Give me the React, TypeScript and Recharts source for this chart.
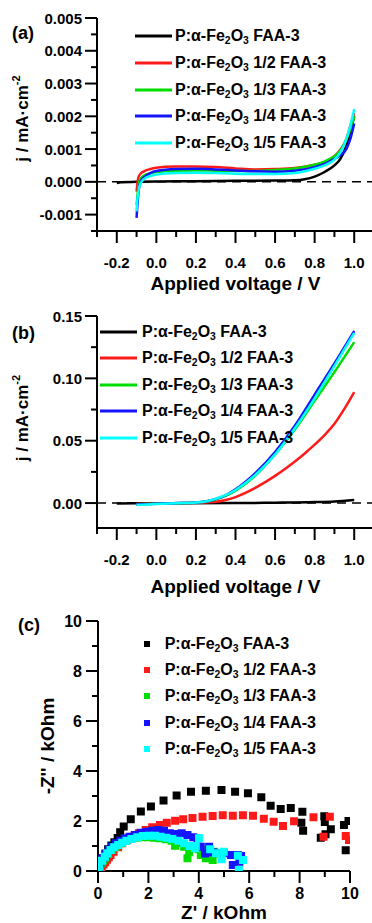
import React from 'react';
import {
  LineChart,
  Line,
  ScatterChart,
  Scatter,
  XAxis,
  YAxis,
  ZAxis,
  ReferenceLine,
  Legend,
  Label,
} from 'recharts';

const FONT = '"Liberation Sans", Arial, Helvetica, sans-serif';

const seriesNames = [
  'P:α-Fe2O3 FAA-3',
  'P:α-Fe2O3 1/2 FAA-3',
  'P:α-Fe2O3 1/3 FAA-3',
  'P:α-Fe2O3 1/4 FAA-3',
  'P:α-Fe2O3 1/5 FAA-3',
];
const seriesColors = ['#000000', '#ff1a1a', '#00dd00', '#1414ff', '#00ffff'];

// tick values
const voltMajor = [-0.2, 0, 0.2, 0.4, 0.6, 0.8, 1.0];
const voltMinor = [-0.3, -0.1, 0.1, 0.3, 0.5, 0.7, 0.9, 1.1];
const darkMajor = [-0.001, 0, 0.001, 0.002, 0.003, 0.004, 0.005];
const darkMinor = [-0.0015, -0.0005, 0.0005, 0.0015, 0.0025, 0.0035, 0.0045];
const lightMajor = [0, 0.05, 0.1, 0.15];
const lightMinor = [0.025, 0.075, 0.125];
const ohmMajor = [0, 2, 4, 6, 8, 10];
const ohmMinor = [1, 3, 5, 7, 9];

// (a) dark current, [V, mA/cm2]
const darkBlack = [
  [-0.2, -0.00004], [-0.18, -0.00001], [-0.1, 0.0], [0.0, 0.00001], [0.2, 0.00002],
  [0.4, 0.00003], [0.6, 0.00004], [0.7, 0.00005], [0.75, 0.00008], [0.8, 0.00016],
  [0.85, 0.0003], [0.9, 0.0005], [0.93, 0.0007], [0.96, 0.0011], [0.98, 0.0015], [1.0, 0.002],
];
const darkHalf = [
  [-0.1, -0.0003], [-0.095, 0.0], [-0.09, 0.00015], [-0.08, 0.00025], [-0.06, 0.00033],
  [-0.03, 0.00039], [0.0, 0.00043], [0.05, 0.00046], [0.1, 0.00047], [0.2, 0.00047],
  [0.3, 0.00045], [0.4, 0.00041], [0.5, 0.00038], [0.6, 0.00039], [0.7, 0.00042],
  [0.8, 0.00052], [0.85, 0.0006], [0.9, 0.00078], [0.93, 0.00098], [0.96, 0.0013],
  [0.98, 0.0017], [1.0, 0.0021],
];
const darkThird = [
  [-0.1, -0.0007], [-0.095, -0.0004], [-0.09, -0.0001], [-0.08, 0.0001], [-0.06, 0.0002],
  [-0.03, 0.00026], [0.0, 0.0003], [0.1, 0.00034], [0.2, 0.00035], [0.3, 0.00034],
  [0.4, 0.00033], [0.5, 0.00033], [0.6, 0.00036], [0.7, 0.00041], [0.8, 0.00052],
  [0.85, 0.00062], [0.9, 0.00078], [0.93, 0.00095], [0.96, 0.0013], [0.98, 0.0016], [1.0, 0.002],
];
const darkQuarter = [
  [-0.1, -0.0011], [-0.097, -0.0008], [-0.093, -0.0005], [-0.088, -0.0002], [-0.08, 0.0],
  [-0.06, 0.00015], [-0.03, 0.00027], [0.0, 0.00033], [0.1, 0.00039], [0.2, 0.0004],
  [0.3, 0.00038], [0.4, 0.00035], [0.5, 0.00032], [0.6, 0.00031], [0.7, 0.00034],
  [0.8, 0.00045], [0.85, 0.00055], [0.9, 0.0007], [0.93, 0.00082], [0.96, 0.001],
  [0.98, 0.0013], [1.0, 0.00178],
];
const darkFifth = [
  [-0.1, -0.0009], [-0.097, -0.0006], [-0.093, -0.0004], [-0.088, -0.0002], [-0.08, -0.00005],
  [-0.06, 0.0001], [-0.03, 0.00018], [0.0, 0.00022], [0.1, 0.00027], [0.2, 0.00028],
  [0.3, 0.00027], [0.4, 0.00025], [0.5, 0.00024], [0.6, 0.00024], [0.7, 0.00027],
  [0.8, 0.0004], [0.85, 0.0005], [0.9, 0.00068], [0.93, 0.0009], [0.96, 0.0013],
  [0.98, 0.0017], [1.0, 0.00222],
];

// (b) photocurrent, [V, mA/cm2]
const lightBlack = [
  [-0.2, -0.0003], [0.0, -0.0002], [0.4, 0.0], [0.6, 0.0003], [0.8, 0.0008], [0.9, 0.0013], [1.0, 0.0025],
];
const lightHalf = [
  [-0.1, -0.0008], [0.0, -0.0004], [0.1, -0.0001], [0.2, 0.0002], [0.25, 0.0005], [0.3, 0.001],
  [0.35, 0.0025], [0.4, 0.0048], [0.45, 0.0082], [0.5, 0.0122], [0.55, 0.0168], [0.6, 0.0218],
  [0.65, 0.0273], [0.7, 0.0333], [0.75, 0.0398], [0.8, 0.0468], [0.85, 0.0545], [0.9, 0.0635],
  [0.95, 0.0755], [1.0, 0.089],
];
const lightThird = [
  [-0.1, -0.001], [0.0, -0.0005], [0.1, -0.0001], [0.2, 0.0004], [0.25, 0.0012], [0.3, 0.003],
  [0.35, 0.0058], [0.4, 0.01], [0.5, 0.022], [0.6, 0.039], [0.7, 0.059], [0.8, 0.082],
  [0.9, 0.105], [1.0, 0.129],
];
const lightQuarter = [
  [-0.1, -0.0012], [0.0, -0.0005], [0.1, 0.0], [0.2, 0.0005], [0.25, 0.0013], [0.3, 0.0033],
  [0.35, 0.0062], [0.4, 0.011], [0.5, 0.024], [0.6, 0.041], [0.7, 0.062], [0.8, 0.087],
  [0.9, 0.112], [1.0, 0.138],
];
const lightFifth = [
  [-0.1, -0.0015], [0.0, -0.0008], [0.1, -0.0002], [0.2, 0.0004], [0.25, 0.0013], [0.3, 0.0035],
  [0.35, 0.0063], [0.4, 0.0105], [0.5, 0.0225], [0.6, 0.039], [0.7, 0.06], [0.8, 0.084],
  [0.9, 0.11], [1.0, 0.1365],
];

// (c) Nyquist, [Z', -Z''] in kOhm
const eisBlack = [
  [0.05, 0.12], [0.1, 0.3], [0.2, 0.5], [0.3, 0.7], [0.4, 0.87], [0.53, 1.02], [0.65, 1.15],
  [0.78, 1.32], [0.88, 1.55], [1.02, 1.78], [1.3, 2.07], [1.7, 2.38], [2.1, 2.58], [2.6, 2.82],
  [3.12, 3.02], [3.69, 3.17], [4.28, 3.21], [4.9, 3.24], [5.44, 3.17], [5.95, 3.11], [6.48, 2.95],
  [6.85, 2.61], [7.25, 2.48], [7.65, 2.52], [8.11, 2.37], [8.07, 1.93], [8.14, 1.61], [8.84, 1.33],
  [9.03, 1.47], [9.24, 1.67], [8.98, 2.19], [9.0, 1.96], [9.76, 1.84], [9.94, 2.0], [9.83, 0.83],
];
const eisHalf = [
  [0.05, 0.02], [0.09, 0.06], [0.15, 0.15], [0.22, 0.26], [0.29, 0.35], [0.36, 0.45], [0.43, 0.55],
  [0.5, 0.64], [0.62, 0.77], [0.8, 0.95], [0.96, 1.11], [1.16, 1.24], [1.38, 1.37], [1.62, 1.51],
  [1.89, 1.64], [2.15, 1.75], [2.46, 1.84], [2.73, 1.93], [3.06, 2.01], [3.38, 2.07], [3.75, 2.12],
  [4.15, 2.17], [4.55, 2.2], [4.95, 2.23], [5.35, 2.21], [5.75, 2.23], [6.15, 2.21], [6.58, 2.09],
  [6.97, 1.97], [7.34, 1.8], [7.78, 1.99], [8.55, 2.15], [9.2, 2.17], [8.95, 1.37], [9.83, 1.4],
  [9.96, 1.24],
];
const eisThird = [
  [0.05, 0.05], [0.08, 0.15], [0.13, 0.31], [0.2, 0.42], [0.27, 0.51], [0.4, 0.68], [0.56, 0.84],
  [0.72, 0.97], [0.89, 1.11], [1.09, 1.21], [1.29, 1.28], [1.52, 1.33], [1.76, 1.35], [2.0, 1.35],
  [2.22, 1.33], [2.45, 1.31], [2.69, 1.27], [2.92, 1.21], [3.06, 1.01], [3.22, 1.11], [3.42, 0.97],
  [3.55, 0.51], [3.68, 0.91], [3.62, 0.75], [4.01, 0.87], [4.08, 0.64], [4.28, 0.51], [4.48, 0.61],
  [4.55, 0.44], [4.35, 0.84], [4.61, 0.77],
];
const eisQuarter = [
  [0.03, 0.05], [0.09, 0.31], [0.18, 0.51], [0.29, 0.68], [0.42, 0.84], [0.56, 0.97], [0.72, 1.11],
  [0.89, 1.21], [1.06, 1.31], [1.25, 1.37], [1.46, 1.44], [1.69, 1.53], [1.92, 1.57], [2.15, 1.61],
  [2.39, 1.64], [2.62, 1.61], [2.85, 1.51], [3.08, 1.48], [3.32, 1.51], [3.55, 1.44], [3.78, 1.35],
  [3.95, 1.3], [4.08, 0.97], [4.41, 0.97], [4.25, 0.7], [4.55, 0.75], [4.81, 0.71], [4.99, 0.71],
  [5.28, 0.64], [5.35, 0.24], [5.55, 0.64], [5.61, 0.37], [5.68, 0.6],
];
const eisFifth = [
  [0.02, 0.03], [0.05, 0.2], [0.16, 0.41], [0.27, 0.57], [0.37, 0.71], [0.5, 0.84], [0.64, 0.95],
  [0.8, 1.04], [0.96, 1.13], [1.13, 1.21], [1.33, 1.28], [1.56, 1.35], [1.78, 1.4], [2.02, 1.41],
  [2.26, 1.41], [2.48, 1.37], [2.71, 1.33], [2.95, 1.28], [3.19, 1.21], [3.42, 1.11], [3.64, 1.0],
  [3.85, 0.91], [3.88, 1.0], [4.01, 1.31], [4.45, 0.87], [4.68, 0.71], [4.91, 0.47], [4.99, 0.77],
  [5.55, 0.61], [5.75, 0.44], [5.59, 0.04],
];

const toPoints = (pairs: number[][]) => pairs.map(([x, y]) => ({ x, y }));
const allTicks = (a: number[], b: number[]) => [...a, ...b].sort((p, q) => p - q);
const isIn = (list: number[], v: number) => list.some((m) => Math.abs(m - v) < 1e-9);

const darkSets = [darkBlack, darkHalf, darkThird, darkQuarter, darkFifth].map(toPoints);
const lightSets = [lightBlack, lightHalf, lightThird, lightQuarter, lightFifth].map(toPoints);
const eisSets = [eisBlack, eisHalf, eisThird, eisQuarter, eisFifth].map(toPoints);

const textStyle = { fontFamily: FONT, fontWeight: 700, fill: '#000' };

const bottomTick =
  (major: number[], digits: number, dy: number, size: number) => (props: any) => {
    const { x, y, payload } = props;
    const big = isIn(major, payload.value);
    return (
      <g>
        <line x1={x} y1={y} x2={x} y2={y + (big ? 12 : 6)} stroke="#000" strokeWidth={2} />
        {big && (
          <text x={x} y={y + dy} textAnchor="middle" dominantBaseline="central" fontSize={size} {...textStyle}>
            {payload.value.toFixed(digits)}
          </text>
        )}
      </g>
    );
  };

const leftTick =
  (major: number[], digits: number, dx: number, size: number) => (props: any) => {
    const { x, y, payload } = props;
    const big = isIn(major, payload.value);
    return (
      <g>
        <line x1={x - (big ? 12 : 6)} y1={y} x2={x} y2={y} stroke="#000" strokeWidth={2} />
        {big && (
          <text x={x - dx} y={y} textAnchor="end" dominantBaseline="central" fontSize={size} {...textStyle}>
            {payload.value.toFixed(digits)}
          </text>
        )}
      </g>
    );
  };

const xTitle = (text: string, dy: number) => (props: any) => {
  const { x, y, width } = props.viewBox;
  return (
    <text x={x + width / 2} y={y + dy} textAnchor="middle" dominantBaseline="central" fontSize={19} {...textStyle}>
      {text}
    </text>
  );
};

const yTitle = (main: string, sup: string, cx: number, shift: number, size: number) => (props: any) => {
  const { x, y, height } = props.viewBox;
  const px = x + cx;
  const py = y + height / 2 + shift;
  return (
    <text
      x={px}
      y={py}
      transform={`rotate(-90 ${px} ${py})`}
      textAnchor="middle"
      dominantBaseline="central"
      fontSize={size}
      {...textStyle}
    >
      {main}
      {sup && (
        <tspan dy="-0.55em" fontSize="0.65em">
          {sup}
        </tspan>
      )}
    </text>
  );
};

const subStyle = { fontSize: '0.65em', verticalAlign: '-0.3em', lineHeight: 0 };
const fancyName = (name: string) => {
  const [a, b] = name.split('Fe2O3');
  return (
    <>
      {a}Fe<sub style={subStyle}>2</sub>O<sub style={subStyle}>3</sub>
      {b}
    </>
  );
};

const LegendList = ({ payload, kind, markW, gap, rowH }: any) => {
  const items = [...(payload || [])].sort(
    (a: any, b: any) => seriesNames.indexOf(a.value) - seriesNames.indexOf(b.value),
  );
  return (
    <div style={{ fontFamily: FONT, fontWeight: 700, fontSize: 16, color: '#000' }}>
      {items.map((it: any) => (
        <div key={it.value} style={{ display: 'flex', alignItems: 'center', height: rowH, whiteSpace: 'nowrap' }}>
          <svg width={markW} height={8} style={{ display: 'block', flex: 'none' }}>
            {kind === 'line' ? (
              <line x1={0} y1={4} x2={markW} y2={4} stroke={it.color} strokeWidth={3} />
            ) : (
              <rect x={(markW - 6) / 2} y={1} width={6} height={6} fill={it.color} />
            )}
          </svg>
          <span style={{ marginLeft: gap, lineHeight: 1 }}>{fancyName(it.value)}</span>
        </div>
      ))}
    </div>
  );
};

const axisLine = { stroke: '#000', strokeWidth: 2 };
const panelTag = (top: number, left: number): React.CSSProperties => ({
  position: 'absolute',
  top,
  left,
  fontFamily: FONT,
  fontWeight: 700,
  fontSize: 18,
  lineHeight: '18px',
  color: '#000',
});

const legendFixed = { layout: 'vertical' as const, align: 'center' as const, verticalAlign: 'middle' as const };

export default function App() {
  return (
    <div style={{ position: 'absolute', left: 0, top: 0, width: 372, height: 923, overflow: 'hidden', background: '#fff' }}>
      {/* (a) */}
      <div style={{ position: 'absolute', left: 0, top: 0 }}>
        <LineChart width={379} height={300} margin={{ top: 18, right: 5, bottom: 0, left: 0 }}>
          <XAxis
            type="number"
            dataKey="x"
            domain={[-0.3, 1.1]}
            ticks={allTicks(voltMajor, voltMinor)}
            interval={0}
            allowDataOverflow
            height={69}
            tickSize={0}
            tickMargin={0}
            tickLine={false}
            axisLine={axisLine}
            tick={bottomTick(voltMajor, 1, 31, 15)}
          >
            <Label content={xTitle('Applied voltage / V', 52)} />
          </XAxis>
          <XAxis xAxisId="top" orientation="top" type="number" domain={[-0.3, 1.1]} height={0} tick={false} tickLine={false} axisLine={axisLine} />
          <YAxis
            type="number"
            domain={[-0.0015, 0.005]}
            ticks={allTicks(darkMajor, darkMinor)}
            interval={0}
            allowDataOverflow
            width={97}
            tickSize={0}
            tickMargin={0}
            tickLine={false}
            axisLine={axisLine}
            tick={leftTick(darkMajor, 3, 15, 15)}
          >
            <Label content={yTitle('j / mA·cm', '-2', 22, -6, 17)} />
          </YAxis>
          <ReferenceLine y={0} stroke="#000" strokeWidth={1.5} strokeDasharray="9 6" />
          {darkSets.map((d, i) => (
            <Line
              key={seriesNames[i]}
              data={d}
              dataKey="y"
              name={seriesNames[i]}
              type="monotone"
              stroke={seriesColors[i]}
              strokeWidth={2.5}
              dot={false}
              isAnimationActive={false}
            />
          ))}
          <Legend
            {...legendFixed}
            wrapperStyle={{ left: 135, top: 22.7, width: 'auto' }}
            content={(p: any) => <LegendList payload={p.payload} kind="line" markW={37} gap={3} rowH={26.8} />}
          />
        </LineChart>
      </div>
      <div style={panelTag(24, 12)}>(a)</div>

      {/* (b) */}
      <div style={{ position: 'absolute', left: 0, top: 300 }}>
        <LineChart width={379} height={300} margin={{ top: 16, right: 5, bottom: 0, left: 0 }}>
          <XAxis
            type="number"
            dataKey="x"
            domain={[-0.3, 1.1]}
            ticks={allTicks(voltMajor, voltMinor)}
            interval={0}
            allowDataOverflow
            height={72}
            tickSize={0}
            tickMargin={0}
            tickLine={false}
            axisLine={axisLine}
            tick={bottomTick(voltMajor, 1, 31, 15)}
          >
            <Label content={xTitle('Applied voltage / V', 58)} />
          </XAxis>
          <XAxis xAxisId="top" orientation="top" type="number" domain={[-0.3, 1.1]} height={0} tick={false} tickLine={false} axisLine={axisLine} />
          <YAxis
            type="number"
            domain={[-0.02, 0.15]}
            ticks={allTicks(lightMajor, lightMinor)}
            interval={0}
            allowDataOverflow
            width={97}
            tickSize={0}
            tickMargin={0}
            tickLine={false}
            axisLine={axisLine}
            tick={leftTick(lightMajor, 2, 15, 15)}
          >
            <Label content={yTitle('j / mA·cm', '-2', 22, -4, 17)} />
          </YAxis>
          <ReferenceLine y={0} stroke="#000" strokeWidth={1.5} strokeDasharray="9 6" />
          {lightSets.map((d, i) => (
            <Line
              key={seriesNames[i]}
              data={d}
              dataKey="y"
              name={seriesNames[i]}
              type="monotone"
              stroke={seriesColors[i]}
              strokeWidth={2.5}
              dot={false}
              isAnimationActive={false}
            />
          ))}
          <Legend
            {...legendFixed}
            wrapperStyle={{ left: 100, top: 18.7, width: 'auto' }}
            content={(p: any) => <LegendList payload={p.payload} kind="line" markW={37} gap={5} rowH={26.5} />}
          />
        </LineChart>
      </div>
      <div style={panelTag(324, 12)}>(b)</div>

      {/* (c) */}
      <div style={{ position: 'absolute', left: 0, top: 600 }}>
        <ScatterChart width={372} height={323} margin={{ top: 21, right: 22, bottom: 0, left: 0 }}>
          <XAxis
            type="number"
            dataKey="x"
            domain={[0, 10]}
            ticks={allTicks(ohmMajor, ohmMinor)}
            interval={0}
            allowDataOverflow
            height={52}
            tickSize={0}
            tickMargin={0}
            tickLine={false}
            axisLine={axisLine}
            tick={bottomTick(ohmMajor, 0, 22, 16)}
          >
            <Label content={xTitle("Z' / kOhm", 41)} />
          </XAxis>
          <XAxis xAxisId="top" orientation="top" type="number" domain={[0, 10]} height={0} tick={false} tickLine={false} axisLine={axisLine} />
          <YAxis
            type="number"
            dataKey="y"
            domain={[0, 10]}
            ticks={allTicks(ohmMajor, ohmMinor)}
            interval={0}
            allowDataOverflow
            width={98}
            tickSize={0}
            tickMargin={0}
            tickLine={false}
            axisLine={axisLine}
            tick={leftTick(ohmMajor, 0, 16, 16)}
          >
            <Label content={yTitle("-Z'' / kOhm", '', 47, 0, 19)} />
          </YAxis>
          <YAxis yAxisId="right" orientation="right" type="number" domain={[0, 10]} width={0} tick={false} tickLine={false} axisLine={axisLine} />
          <ZAxis range={[30, 30]} />
          {eisSets.map((d, i) => (
            <Scatter
              key={seriesNames[i]}
              data={d}
              name={seriesNames[i]}
              fill={seriesColors[i]}
              shape="square"
              isAnimationActive={false}
            />
          ))}
          <Legend
            {...legendFixed}
            wrapperStyle={{ left: 142.7, top: 30.9, width: 'auto' }}
            content={(p: any) => <LegendList payload={p.payload} kind="square" markW={8} gap={14} rowH={26.2} />}
          />
        </ScatterChart>
      </div>
      <div style={panelTag(616, 18)}>(c)</div>
    </div>
  );
}
